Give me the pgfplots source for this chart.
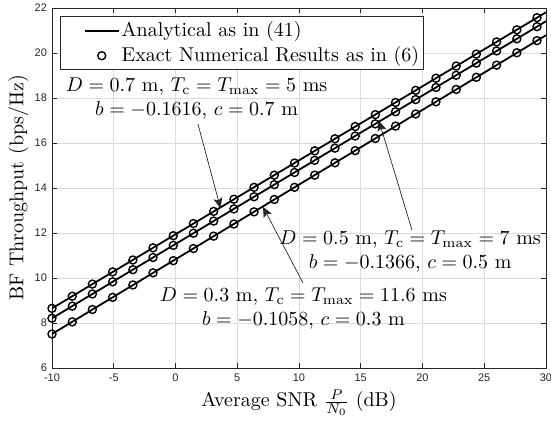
\documentclass[border=0pt]{standalone}
\usepackage{fontspec}
\usepackage{pgfplots}
\pgfplotsset{compat=1.18}
\usetikzlibrary{arrows.meta}
\newfontfamily\ticfont{Liberation Sans}
\definecolor{axgray}{gray}{0.15}
\definecolor{gridgray}{gray}{0.86}

\pgfplotsset{
  mylineleg/.style={legend image code/.code={\path[draw=none,fill=none] (0pt,0pt) -- (28pt,0pt); \draw[##1] (11pt,0pt) -- (28pt,0pt);}},
  mymarkleg/.style={legend image code/.code={\path[draw=none,fill=none] (0pt,0pt) -- (28pt,0pt); \draw[##1, draw=none] plot coordinates {(19.5pt,0pt)};}},
}

\pgfplotstableread{
x y
-10.00 8.65
-8.36 9.19
-6.73 9.73
-5.09 10.27
-3.45 10.80
-1.82 11.34
-0.18 11.88
1.45 12.42
3.09 12.96
4.73 13.50
6.36 14.03
8.00 14.57
9.64 15.11
11.27 15.65
12.91 16.19
14.55 16.73
16.18 17.26
17.82 17.80
19.45 18.34
21.09 18.88
22.73 19.42
24.36 19.95
26.00 20.49
27.64 21.03
29.27 21.57
}\numA

\pgfplotstableread{
x y
-10.00 8.21
-8.36 8.75
-6.73 9.29
-5.09 9.83
-3.45 10.37
-1.82 10.91
-0.18 11.45
1.45 11.99
3.09 12.53
4.73 13.07
6.36 13.61
8.00 14.15
9.64 14.69
11.27 15.23
12.91 15.77
14.55 16.31
16.18 16.85
17.82 17.39
19.45 17.93
21.09 18.47
22.73 19.01
24.36 19.55
26.00 20.09
27.64 20.63
29.27 21.17
}\numB

\pgfplotstableread{
x y
-10.00 7.51
-8.36 8.05
-6.73 8.60
-5.09 9.14
-3.45 9.69
-1.82 10.23
-0.18 10.77
1.45 11.31
3.09 11.86
4.73 12.40
6.36 12.94
8.00 13.49
9.64 14.03
11.27 14.57
12.91 15.12
14.55 15.66
16.18 16.20
17.82 16.75
19.45 17.29
21.09 17.83
22.73 18.38
24.36 18.92
26.00 19.46
27.64 20.01
29.27 20.55
}\numC

\begin{document}
\begin{tikzpicture}
\begin{axis}[
  scale only axis,
  width=247pt, height=180pt,
  xmin=-10, xmax=30, ymin=6, ymax=22,
  xtick={-10,-5,0,5,10,15,20,25,30},
  xticklabels={-10,-5,0,5,10,15,20,25,30},
  ytick={6,8,10,12,14,16,18,20,22},
  yticklabels={6,8,10,12,14,16,18,20,22},
  tick label style={font=\ticfont\fontsize{5.5}{6.5}\selectfont, text=axgray},
  xticklabel style={yshift=0.5pt},
  yticklabel style={xshift=1pt},
  grid=major,
  major grid style={gridgray, line width=0.35pt},
  axis line style={axgray, line width=0.45pt},
  tick style={axgray, line width=0.45pt},
  tick align=inside,
  major tick length=2.5pt,
  xlabel={Average SNR $\frac{P}{N_0}$ (dB)},
  ylabel={BF Throughput (bps/Hz)},
  label style={font=\fontsize{10}{12}\selectfont},
  xlabel style={at={(axis description cs:0.5,0)}, anchor=base, yshift=-19.5pt},
  ylabel style={at={(axis description cs:-0.068,0.5)}, anchor=center},
  legend style={at={(axis description cs:0.0168,0.977)}, anchor=north west,
    draw=axgray, line width=0.45pt, fill=white,
    font=\fontsize{10}{12}\selectfont, cells={anchor=west},
    nodes={inner sep=1pt},
    inner xsep=1pt, inner ysep=1.5pt, row sep=1.5pt},
]
\addplot[black, line width=0.9pt, no marks, mylineleg]
  coordinates {(-10,8.65) (30,21.81)};
\addlegendentry{Analytical as in (41)}
\addplot[black, only marks, mark=o, mark size=2pt, mark options={line width=0.7pt}, mymarkleg]
  table[x=x,y=y] {\numA};
\addlegendentry{Exact Numerical Results as in (6)}
\addplot[black, only marks, mark=o, mark size=2pt, mark options={line width=0.7pt}, forget plot] table[x=x,y=y] {\numB};
\addplot[black, only marks, mark=o, mark size=2pt, mark options={line width=0.7pt}, forget plot] table[x=x,y=y] {\numC};
\addplot[black, line width=0.9pt, no marks, forget plot] coordinates {(-10,8.21) (30,21.41)};
\addplot[black, line width=0.9pt, no marks, forget plot] coordinates {(-10,7.51) (30,20.79)};

\draw[-{Stealth[length=5pt,width=4.5pt,inset=1pt]}, axgray, line width=0.35pt] (axis cs:1.82,16.84) -- (axis cs:3.64,13.11);
\draw[-{Stealth[length=5pt,width=4.5pt,inset=1pt]}, axgray, line width=0.35pt] (axis cs:19.15,12.13) -- (axis cs:16.48,16.98);
\draw[-{Stealth[length=5pt,width=4.5pt,inset=1pt]}, axgray, line width=0.35pt] (axis cs:10.32,9.78) -- (axis cs:7.09,13.16);

\node[align=center, font=\fontsize{10}{12.2}\selectfont, inner sep=0pt] at (axis cs:1.71,17.96)
  {$D=0.7$ m, $T_\mathrm{c}=T_{\max}=5$ ms\\ $b=-0.1616$, $c=0.7$ m};
\node[align=center, font=\fontsize{10}{12.2}\selectfont, inner sep=0pt] at (axis cs:19.0,11.18)
  {$D=0.5$ m, $T_\mathrm{c}=T_{\max}=7$ ms\\ $b=-0.1366$, $c=0.5$ m};
\node[align=center, font=\fontsize{10}{12.2}\selectfont, inner sep=0pt] at (axis cs:10.36,8.64)
  {$D=0.3$ m, $T_\mathrm{c}=T_{\max}=11.6$ ms\\ $b=-0.1058$, $c=0.3$ m};
\end{axis}
\pgfresetboundingbox
\path ([shift={(-26pt,-27pt)}]current axis.south west) rectangle ([shift={(2.5pt,4pt)}]current axis.north east);
\end{tikzpicture}
\end{document}
